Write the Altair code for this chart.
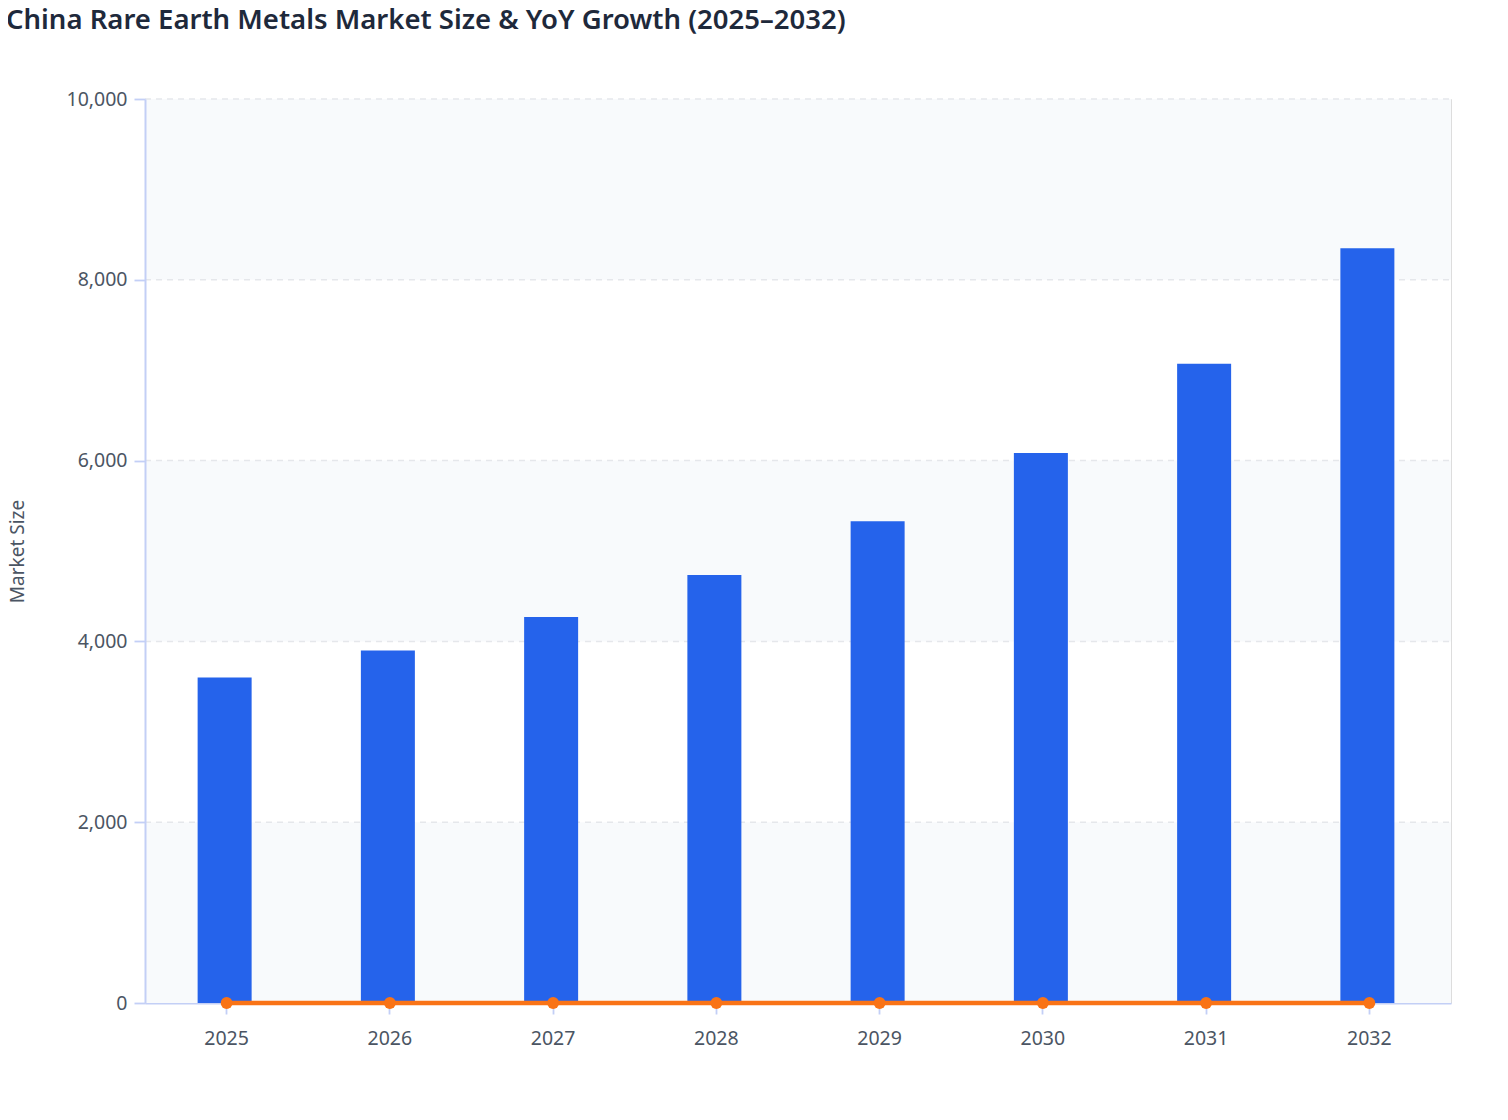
import altair as alt
import pandas as pd

years = ["2025", "2026", "2027", "2028", "2029", "2030", "2031", "2032"]
market_size = [3600, 3900, 4270, 4735, 5330, 6085, 7070, 8350]
yoy_growth = [0.079, 0.083, 0.095, 0.109, 0.126, 0.141, 0.162, 0.181]

y_ticks = [0, 2000, 4000, 6000, 8000, 10000]
band_start = [0, 4000, 8000]
band_end = [2000, 6000, 10000]
grid_lines = [2000, 4000, 6000, 8000, 10000]

W, H = 1306, 904
FONT = "Noto Sans"

df = pd.DataFrame({"Year": years, "Market Size": market_size, "YoY Growth": yoy_growth})
bands = pd.DataFrame({"y0": band_start, "y1": band_end})
grid = pd.DataFrame({"g": grid_lines})

yscale = alt.Scale(domain=[0, 10000], nice=False, zero=True)
yaxis = alt.Axis(values=y_ticks, format=",.0f", grid=False, zindex=1,
                 labelFontSize=19.5, labelColor="#4b5563", labelFont=FONT,
                 labelPadding=7, tickSize=11, tickColor="#c3cff6",
                 tickWidth=1.8, domainColor="#c3cff6", domainWidth=2,
                 titleFontSize=19, titleColor="#4b5563", titleFont=FONT,
                 titleFontWeight="normal", titleX=-128, titleY=452,
                 titleAngle=270, titleBaseline="middle", titleAlign="center")
xaxis = alt.Axis(labelAngle=0, labelFontSize=19.5, labelColor="#4b5563",
                 labelFont=FONT, labelPadding=15, tickSize=11,
                 tickColor="#c3cff6", tickWidth=1.8,
                 domainColor="#c3cff6", domainWidth=2, grid=False)

band_layer = alt.Chart(bands).mark_rect(color="#f8fafc").encode(
    x=alt.value(0), x2=alt.value(W),
    y=alt.Y("y0:Q", scale=yscale, title="Market Size", axis=yaxis), y2="y1:Q")

grid_layer = alt.Chart(grid).mark_rule(color="#e5e7eb", strokeWidth=1.5,
                                       strokeDash=[6, 5]).encode(
    x=alt.value(0), x2=alt.value(W),
    y=alt.Y("g:Q", scale=yscale, title="Market Size", axis=yaxis))

bars = alt.Chart(df).mark_bar(color="#2563eb", size=54, xOffset=-2).encode(
    x=alt.X("Year:N", sort=years, title=None, axis=xaxis,
            scale=alt.Scale(paddingInner=0, paddingOuter=0)),
    y=alt.Y("Market Size:Q", scale=yscale, title="Market Size", axis=yaxis))

line = alt.Chart(df).mark_line(color="#f97316", strokeWidth=4.5).encode(
    x=alt.X("Year:N", sort=years, title=None, axis=xaxis),
    y=alt.Y("YoY Growth:Q", scale=yscale, title="Market Size", axis=yaxis))

points = alt.Chart(df).mark_point(color="#f97316", filled=True, size=140, opacity=1).encode(
    x=alt.X("Year:N", sort=years, title=None, axis=xaxis),
    y=alt.Y("YoY Growth:Q", scale=yscale, title="Market Size", axis=yaxis))

chart = alt.layer(band_layer, grid_layer, bars, line, points).properties(
    width=W, height=H,
    title=alt.TitleParams("China Rare Earth Metals Market Size & YoY Growth (2025–2032)",
                          anchor="start", frame="bounds", fontSize=27.5, font=FONT,
                          fontWeight=600, color="#1e293b", offset=55, dx=-2),
    autosize=alt.AutoSizeParams(type="none"),
    padding={"left": 137, "top": 91, "right": 40, "bottom": 80},
).configure_view(stroke=None).configure(background="white")

chart.save("out.html", embed_options={"renderer": "svg", "actions": False})
